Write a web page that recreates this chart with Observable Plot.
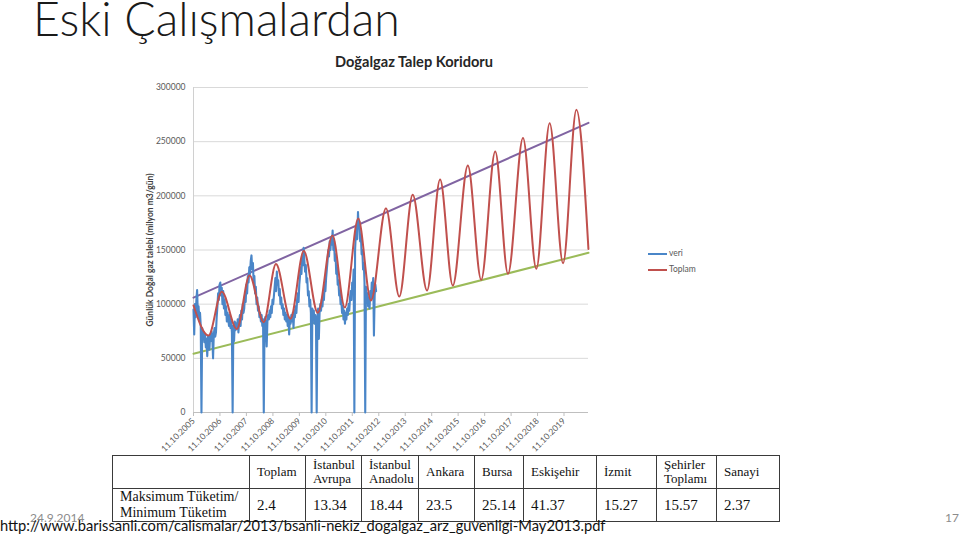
<!DOCTYPE html>
<html><head><meta charset="utf-8">
<script src="https://cdn.jsdelivr.net/npm/d3@7"></script>
<script src="https://cdn.jsdelivr.net/npm/@observablehq/plot@0.6"></script>
<style>
html,body{margin:0;padding:0;background:#fff;}
#page{position:relative;width:960px;height:537px;overflow:hidden;background:#fff;font-family:Lato,"Open Sans",sans-serif;}
#chart{position:absolute;left:0;top:0;}
.abs{position:absolute;white-space:nowrap;line-height:1;}
#title{left:33px;top:0px;font-size:44px;line-height:0.8;font-weight:300;color:#1a1a1a;}
#ctitle{left:414px;top:55px;transform:translateX(-50%);font-size:14px;font-weight:bold;color:#262626;}
.leg{font-size:8.5px;color:#595959;}
.legline{position:absolute;width:19px;height:0;border-top:2px solid;}
#tbl{position:absolute;left:112px;top:455px;border-collapse:collapse;table-layout:fixed;width:667px;font-family:"Liberation Serif","Times New Roman",serif;color:#111;background:#fff;z-index:2;}
#tbl td{border:1px solid #3a3a3a;padding:0 0 0 7px;vertical-align:middle;text-align:left;overflow:hidden;white-space:nowrap;}
#tbl tr.h td{height:32px;font-size:13px;line-height:14px;}
#tbl tr.v td{height:31px;font-size:15px;}
#tbl tr.v td.lab{font-size:14px;line-height:16px;}
#date{left:30px;top:512px;font-size:12px;color:#8c8c8c;z-index:1;}
#author{left:468px;top:513px;font-size:12px;color:#8c8c8c;z-index:1;}
#num{left:945px;top:512px;font-size:12px;color:#8c8c8c;}
#url{left:0px;top:519px;font-size:16px;color:#111;z-index:3;}
</style></head>
<body><div id="page"></div>
<script>
// ---------- data ----------
const yTicks = [0, 50000, 100000, 150000, 200000, 250000, 300000];
const xTickYears = [2005, 2006, 2007, 2008, 2009, 2010, 2011, 2012, 2013, 2014, 2015, 2016, 2017, 2018, 2019];
const xDomain = ["2005-10-11", "2020-09-13"];

// "veri" daily demand, sampled every 10 days from 2005-10-11 (thousand m3 units as plotted)
const veriStart = "2005-10-11";
const veriStepDays = 10;
const veriThousands = [
  95, 72, 100, 88, 104, 113, 90, 98, 85, 92, 80,
  0,
  78, 70, 74, 65, 72, 60, 68, 52, 70, 64,
  58, 72, 66, 75, 68, 50, 72, 78, 70,
  74, 88, 98, 110, 104, 118,
  120, 108, 115, 100, 112, 96, 104, 90, 98, 84, 92, 86, 80, 90, 78, 84, 74,
  0,
  80, 66, 84, 76, 82, 78, 86, 74, 84, 90, 80, 94, 86, 100, 92,
  96, 108, 102, 118, 110, 126, 120,
  134, 128, 140, 145, 132, 138, 120, 126, 110, 116,
  100, 106, 94, 98, 88, 92, 84, 90, 80, 86,
  0,
  82, 88, 78, 61, 84, 90, 86, 94, 88, 98, 92, 104, 100,
  108, 116, 124, 112, 130, 118, 122, 108, 114, 100,
  106, 96, 100, 90, 96, 86, 92, 84, 90, 80, 88, 72, 86,
  82, 90, 84, 92, 78, 94, 88, 98, 92, 104, 110, 102, 118,
  126, 134, 128, 144, 136, 152, 140, 130, 136, 120, 124, 108, 112, 98,
  104, 92,
  0,
  96, 86, 94, 82, 90, 84,
  0,
  88, 96, 68, 92, 100, 94, 104, 98, 110, 104, 118, 112, 124,
  132, 140, 150, 144, 158, 150, 162, 155, 168, 150, 158, 140, 146, 128, 134, 118,
  122, 108, 112, 100, 104, 92, 98, 86, 94, 82, 92, 86, 96, 90, 100, 94, 106, 112, 104, 120, 116, 132,
  0,
  150, 165, 172, 160, 185, 170, 176, 158, 164, 146, 150, 132, 138, 120,
  0,
  116, 104, 110, 98, 106, 96, 112, 104, 120, 110, 124, 71, 108, 118, 112
];

// "Toplam" model: turning points
const toplamDates = [
  "2005-10-11", "2006-05-06", "2006-11-06", "2007-06-01", "2007-11-24", "2008-06-05",
  "2008-11-22", "2009-06-10", "2009-12-11", "2010-06-22", "2011-01-11", "2011-06-30",
  "2012-01-01", "2012-06-25", "2013-01-18", "2013-07-21", "2014-01-22", "2014-08-08",
  "2015-02-04", "2015-07-29", "2016-02-22", "2016-08-24", "2017-03-06", "2017-08-29",
  "2018-03-24", "2018-09-24", "2019-03-27", "2019-09-28", "2020-03-30", "2020-09-12"
];
const toplamValues = [
  98800, 71000, 111500, 77000, 126500, 83400,
  137000, 86500, 149000, 92000, 163500, 97000,
  179000, 103400, 188500, 107000, 201000, 112600,
  215000, 117200, 228000, 122500, 241000, 128000,
  253500, 132600, 267000, 137800, 279500, 151000
];

// corridor trend lines
const trendDates = ["2005-10-11", "2020-09-13"];
const upperTrend = [106000, 267400];
const lowerTrend = [54200, 147400];

// table
const tableHeaders = ["Toplam", "İstanbul<br>Avrupa", "İstanbul<br>Anadolu", "Ankara", "Bursa", "Eskişehir", "İzmit", "Şehirler<br>Toplamı", "Sanayi"];
const tableRowLabel = "Maksimum Tüketim/<br>Minimum Tüketim";
const tableValues = ["2.4", "13.34", "18.44", "23.5", "25.14", "41.37", "15.27", "15.57", "2.37"];
const colWidths = [137, 56, 56, 57, 56, 49, 73, 60, 60, 63];

// ---------- build ----------
const parse = d3.utcParse("%Y-%m-%d");
const start = parse(veriStart);
const veri = veriThousands.map((v, i) => ({date: d3.utcDay.offset(start, i * veriStepDays), value: v * 1000}));
const toplam = toplamDates.map((d, i) => ({date: parse(d), value: toplamValues[i]}));
const upper = trendDates.map((d, i) => ({date: parse(d), value: upperTrend[i]}));
const lower = trendDates.map((d, i) => ({date: parse(d), value: lowerTrend[i]}));
const xTicks = xTickYears.map(y => new Date(Date.UTC(y, 9, 11)));

const chart = Plot.plot({
  width: 960, height: 455,
  marginLeft: 193, marginRight: 372, marginTop: 87, marginBottom: 43,
  style: {fontFamily: "Lato, 'Open Sans', sans-serif", fontSize: "8.5px", color: "#595959", background: "transparent", overflow: "visible"},
  x: {type: "utc", domain: xDomain.map(parse)},
  y: {domain: [0, 300000]},
  marks: [
    Plot.gridY(yTicks, {stroke: "#d9d9d9", strokeOpacity: 1}),
    Plot.ruleX([parse(xDomain[0])], {stroke: "#d0d0d0"}),
    Plot.ruleY([0], {stroke: "#bfbfbf"}),
    Plot.axisY(yTicks, {tickSize: 0, tickPadding: 8, fill: "#595959", tickFormat: d => String(d), label: null}),
    Plot.axisX(xTicks, {tickRotate: -45, tickSize: 4, tickPadding: 3, stroke: "#bfbfbf", fill: "#595959", tickFormat: d3.utcFormat("%d.%m.%Y"), label: null}),
    Plot.text(["Günlük Doğal gaz talebi (milyon m3/gün)"], {frameAnchor: "left", textAnchor: "middle", rotate: -90, dx: -43, fontWeight: "bold", fontSize: 8.5, fill: "#404040"}),
    Plot.line(lower, {x: "date", y: "value", stroke: "#9bbb59", strokeWidth: 2}),
    Plot.line(upper, {x: "date", y: "value", stroke: "#8064a2", strokeWidth: 2}),
    Plot.line(veri, {x: "date", y: "value", stroke: "#4a86c8", strokeWidth: 2.1, strokeLinejoin: "round"}),
    Plot.line(toplam, {x: "date", y: "value", stroke: "#c0504d", strokeWidth: 2, curve: "monotone-x"})
  ]
});
chart.id = "chart";

const page = document.getElementById("page");
page.appendChild(chart);

function add(id, html, cls = "abs") {
  const d = document.createElement("div");
  d.id = id; d.className = cls; d.innerHTML = html;
  page.appendChild(d);
  return d;
}
add("title", "Eski Çalışmalardan");
add("ctitle", "Doğalgaz Talep Koridoru");

// legend
const legend = [["veri", "#4a86c8", 254], ["Toplam", "#c0504d", 270]];
for (const [name, color, y] of legend) {
  const l = document.createElement("div");
  l.className = "legline"; l.style.left = "648px"; l.style.top = (y - 1) + "px"; l.style.borderTopColor = color;
  page.appendChild(l);
  const t = add("leg-" + name, name, "abs leg");
  t.style.left = "669px"; t.style.top = (y - 5) + "px";
}

add("date", "24.9.2014");
add("author", "Barış Sanlı");

const tbl = document.createElement("table");
tbl.id = "tbl";
tbl.innerHTML =
  "<colgroup>" + colWidths.map(w => `<col style="width:${w}px">`).join("") + "</colgroup>" +
  `<tr class="h"><td></td>${tableHeaders.map(h => `<td>${h}</td>`).join("")}</tr>` +
  `<tr class="v"><td class="lab">${tableRowLabel}</td>${tableValues.map(v => `<td>${v}</td>`).join("")}</tr>`;
page.appendChild(tbl);

add("url", "http://www.barissanli.com/calismalar/2013/bsanli-nekiz_dogalgaz_arz_guvenligi-May2013.pdf");
add("num", "17");

// fit a few texts to their widths in the reference
function fit(id, target) {
  const el = document.getElementById(id);
  const w = el.getBoundingClientRect().width;
  const fs = parseFloat(getComputedStyle(el).fontSize);
  el.style.fontSize = (fs * target / w).toFixed(2) + "px";
}
fit("title", 367);
fit("url", 606);
fit("ctitle", 158);
</script>
</body></html>
